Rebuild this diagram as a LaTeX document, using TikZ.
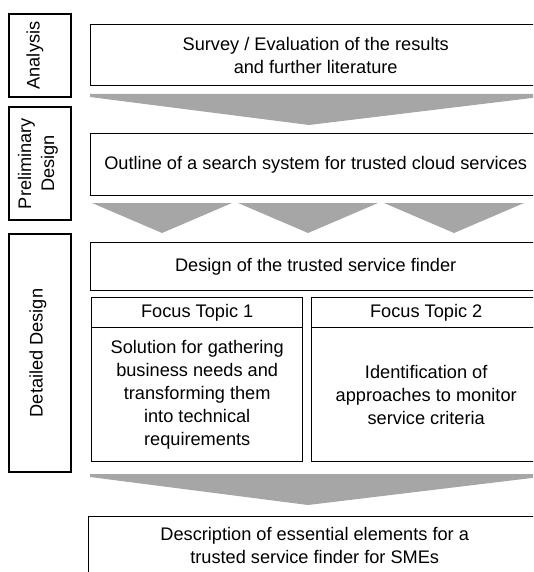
\documentclass[tikz,border=0pt]{standalone}
\usepackage{fontspec}
\setmainfont{Liberation Sans}
\definecolor{arrowgray}{RGB}{166,166,166}
\begin{document}
\begin{tikzpicture}[x=1pt,y=-1pt,
  txt/.style={font=\fontsize{18.2}{23}\selectfont,align=center,inner sep=0pt},
  box/.style={txt,draw=black,line width=1.4pt,fill=white,anchor=north west},
  phase/.style={draw=black,line width=1.4pt,fill=white,inner sep=0pt},
  phasetext/.style={txt,rotate=90},
  chev/.style={fill=arrowgray,draw=none}]
\useasboundingbox (0,0) rectangle (533,572);
\clip (0,0) rectangle (533,572);

% phase column on the left
\node[phase,minimum width=62pt,minimum height=83pt] (ana) at (40,55.5) {};
\node[phasetext] (anatext) at ([xshift=-5pt]ana.center) {Analysis};
\node[phase,minimum width=62pt,minimum height=113pt] (pre) at (40,163.5) {};
\node[phasetext] (pretext) at ([xshift=-2pt]pre.center) {Preliminary\\Design};
\node[phase,minimum width=62pt,minimum height=238pt] (det) at (40,353) {};
\node[phasetext] (dettext) at ([xshift=-2pt]det.center) {Detailed Design};

% gray arrows between the stages
\fill[chev] (90,94) -- (540,94) -- (540,97) -- (309,125) -- (90,97) -- cycle;
\fill[chev] (92,203) -- (232,203) -- (162,233) -- cycle;
\fill[chev] (238,203) -- (378,203) -- (308,233) -- cycle;
\fill[chev] (384,203) -- (524,203) -- (454,233) -- cycle;
\fill[chev] (90,474) -- (540,474) -- (540,477) -- (308,505) -- (90,477) -- cycle;

% stage contents
\node[box,minimum width=450pt,minimum height=61pt] (survey) at (90,24)
  {Survey / Evaluation of the results\\and further literature};
\node[box,minimum width=450pt,minimum height=62pt] (outline) at (90,133)
  {Outline of a search system for trusted cloud services};
\node[box,minimum width=450pt,minimum height=48pt] (design) at (90,242)
  {Design of the trusted service finder};

\node[box,minimum width=211pt,minimum height=30pt] (ft1h) at (91,297) {Focus Topic 1};
\node[box,minimum width=211pt,minimum height=134pt] (ft1b) at (91,327)
  {Solution for gathering\\business needs and\\transforming them\\into technical\\requirements};
\node[box,minimum width=229pt,minimum height=30pt] (ft2h) at (311,297) {Focus Topic 2};
\node[box,minimum width=229pt,minimum height=134pt] (ft2b) at (311,327)
  {Identification of\\approaches to monitor\\service criteria};

\node[box,minimum width=452pt,minimum height=80pt] (desc) at (88,516) {};
\node[txt,anchor=north] (desctext) at ([yshift=-11pt]desc.north)
  {Description of essential elements for a\\trusted service finder for SMEs};
\end{tikzpicture}
\end{document}
